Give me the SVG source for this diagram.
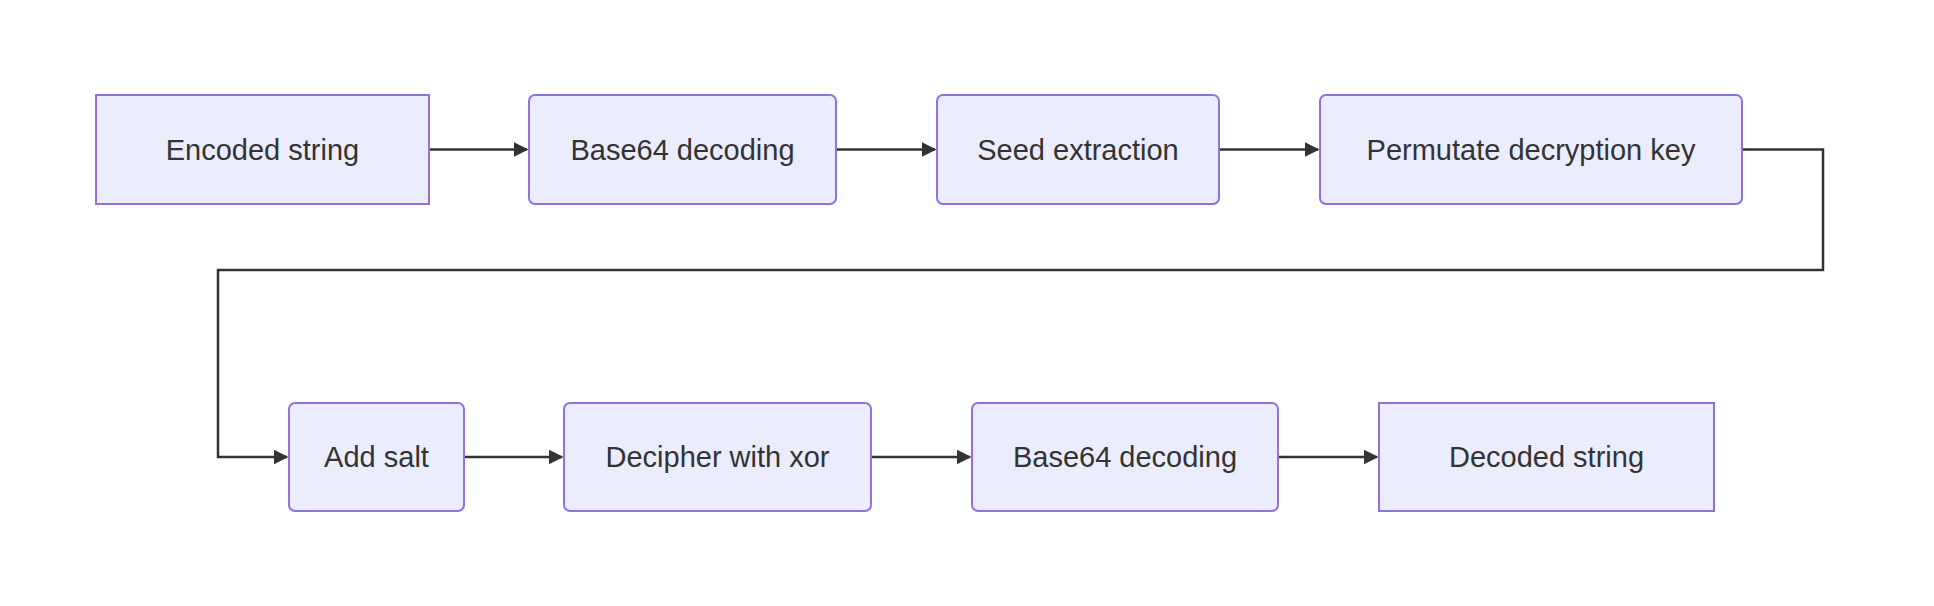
<svg xmlns="http://www.w3.org/2000/svg" width="1934" height="606" viewBox="0 0 1934 606">
<style>
.n{fill:#ECECFF;stroke:#9370DB;stroke-width:2}
.t{font-family:"Liberation Sans",Arial,sans-serif;font-size:29px;fill:#333;text-anchor:middle;dominant-baseline:central}
.e{fill:none;stroke:#333;stroke-width:2.5}
</style>
<defs><marker id="a" viewBox="0 0 10 10" refX="9" refY="5" markerWidth="6" markerHeight="6" orient="auto" markerUnits="strokeWidth"><path d="M0,0L10,5L0,10z" fill="#333"/></marker></defs>
<rect width="1934" height="606" fill="#fff"/>
<g id="edges">
<path class="e" d="M429,149.5H527" marker-end="url(#a)"/>
<path class="e" d="M836,149.5H935" marker-end="url(#a)"/>
<path class="e" d="M1219,149.5H1318" marker-end="url(#a)"/>
<path class="e" d="M1742,149.5H1823V270H218V457H287" marker-end="url(#a)"/>
<path class="e" d="M464,457H562" marker-end="url(#a)"/>
<path class="e" d="M871,457H970" marker-end="url(#a)"/>
<path class="e" d="M1278,457H1377" marker-end="url(#a)"/>
</g>
<g id="n1"><rect class="n" x="96" y="95" width="333" height="109"/><text class="t" x="262.5" y="149.5">Encoded string</text></g>
<g id="n2"><rect class="n" x="529" y="95" width="307" height="109" rx="6"/><text class="t" x="682.5" y="149.5">Base64 decoding</text></g>
<g id="n3"><rect class="n" x="937" y="95" width="282" height="109" rx="6"/><text class="t" x="1078" y="149.5">Seed extraction</text></g>
<g id="n4"><rect class="n" x="1320" y="95" width="422" height="109" rx="6"/><text class="t" x="1531" y="149.5">Permutate decryption key</text></g>
<g id="n5"><rect class="n" x="289" y="403" width="175" height="108" rx="6"/><text class="t" x="376.5" y="457">Add salt</text></g>
<g id="n6"><rect class="n" x="564" y="403" width="307" height="108" rx="6"/><text class="t" x="717.5" y="457">Decipher with xor</text></g>
<g id="n7"><rect class="n" x="972" y="403" width="306" height="108" rx="6"/><text class="t" x="1125" y="457">Base64 decoding</text></g>
<g id="n8"><rect class="n" x="1379" y="403" width="335" height="108"/><text class="t" x="1546.5" y="457">Decoded string</text></g>
</svg>
